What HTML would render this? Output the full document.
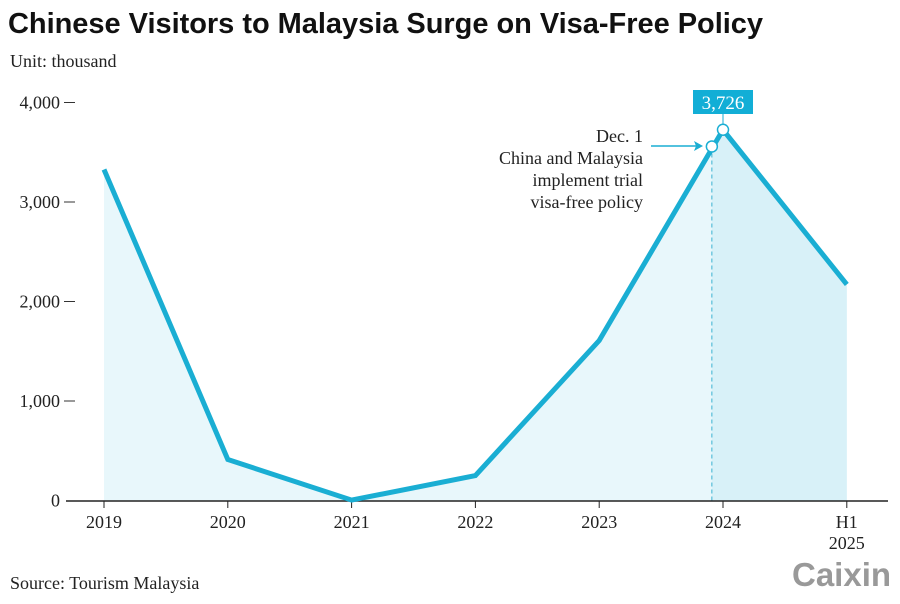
<!DOCTYPE html>
<html><head><meta charset="utf-8"><style>
body{margin:0;background:#fff;width:900px;height:599px;overflow:hidden}
svg text{font-family:"Liberation Serif",serif}
</style></head><body>
<svg width="900" height="599" viewBox="0 0 900 599">
<text x="8" y="33" font-weight="bold" font-size="29" textLength="755" fill="#111" style="font-family:'Liberation Sans',sans-serif">Chinese Visitors to Malaysia Surge on Visa-Free Policy</text>
<text x="10" y="67" font-size="18" fill="#222">Unit: thousand</text>
<g id="yax"></g>
<g id="plot"></g>
<text x="10" y="589" font-size="18" fill="#222">Source: Tourism Malaysia</text>
<text x="792" y="586" font-size="33" font-weight="bold" fill="#999" style="font-family:'Liberation Sans',sans-serif">Caixin</text>
</svg>
<script>
const categories=["2019","2020","2021","2022","2023","2024","H1|2025"];
const values=[3327,412,4,251,1608,3726,2171];
const yTicks=[0,1000,2000,3000,4000];
const yTickLabels=["0","1,000","2,000","3,000","4,000"];
const policyPos=4.91, policyValue=3558;
const NS="http://www.w3.org/2000/svg";
const x=i=>104+i*123.8;
const y=v=>500.5-v*0.0995;
function mk(t,a,p){const e=document.createElementNS(NS,t);for(const k in a)e.setAttribute(k,a[k]);(p||plot).appendChild(e);return e;}
const plot=document.getElementById('plot'),yax=document.getElementById('yax');
yTicks.forEach((v,i)=>{
 const t=mk('text',{x:60,y:y(v)+6,'text-anchor':'end','font-size':18,fill:'#222'},yax);t.textContent=yTickLabels[i];
 
 
 if(v>0){const l=mk('line',{x1:64,x2:75,y1:y(v),y2:y(v),stroke:'#333','stroke-width':1},yax);
 
 }
});
const n=values.length;
let d=`M${x(0)},${y(0)}`;values.forEach((v,i)=>d+=`L${x(i)},${y(v)}`);d+=`L${x(n-1)},${y(0)}Z`;
const area=mk('path',{d,fill:'#e8f7fb'});


const px=104+policyPos*123.8;
let d2=`M${px},${y(0)}L${px},${y(policyValue)}`;
for(let i=Math.ceil(policyPos);i<n;i++)d2+=`L${x(i)},${y(values[i])}`;
d2+=`L${x(n-1)},${y(0)}Z`;
const area2=mk('path',{d:d2,fill:'#d8f1f8'});


const dl=mk('line',{x1:px,x2:px,y1:y(policyValue),y2:y(0),stroke:'#3bb3d3','stroke-width':1,'stroke-dasharray':'4,3'});


const ax=mk('line',{x1:66,x2:888,y1:501,y2:501,stroke:'#222','stroke-width':1.5});


categories.forEach((c,i)=>{
 const tk=mk('line',{x1:x(i),x2:x(i),y1:501,y2:508,stroke:'#222','stroke-width':1});
 
 
 c.split('|').forEach((s,j)=>{const t=mk('text',{x:x(i),y:528+j*21,'text-anchor':'middle','font-size':18,fill:'#222'});t.textContent=s;
 
 });
});
const pts=values.map((v,i)=>`${x(i)},${y(v)}`).join(' ');
const ln=mk('polyline',{points:pts,fill:'none',stroke:'#1aaed3','stroke-width':5,'stroke-linejoin':'miter'});


const m1=mk('circle',{cx:px,cy:y(policyValue),r:5.5,fill:'#fff',stroke:'#1aaed3','stroke-width':1.5});


const pk=values.indexOf(Math.max(...values));
const m2=mk('circle',{cx:x(pk),cy:y(values[pk]),r:5.5,fill:'#fff',stroke:'#1aaed3','stroke-width':1.5});


const cl=mk('line',{x1:x(pk),x2:x(pk),y1:114,y2:y(values[pk])-5,stroke:'#1aaed3','stroke-width':1});


const bx=mk('rect',{x:x(pk)-30,y:90,width:60,height:24,fill:'#12aed6'});


const bt=mk('text',{x:x(pk),y:109,'text-anchor':'middle','font-size':19,fill:'#fff'});bt.textContent=values[pk].toLocaleString('en-US');


const ar=mk('line',{x1:651,x2:700,y1:146,y2:146,stroke:'#1aaed3','stroke-width':1.5});


const ah=mk('path',{d:'M703,146 L694,141 L696,146 L694,151Z',fill:'#1aaed3'});


["Dec. 1","China and Malaysia","implement trial","visa-free policy"].forEach((s,i)=>{
 const t=mk('text',{x:643,y:142+i*22,'text-anchor':'end','font-size':18,fill:'#222'});t.textContent=s;
 
 
});
</script>
</body></html>
